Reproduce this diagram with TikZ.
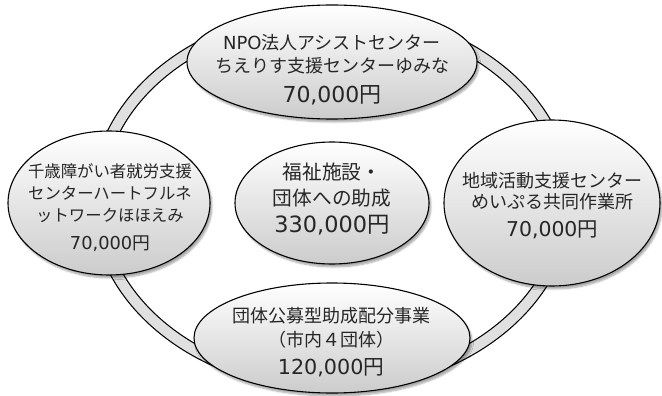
\documentclass[tikz,border=0pt]{standalone}
\usepackage{fontspec}
\newfontfamily\jp{Noto Sans CJK JP}
\newfontfamily\lat{DejaVu Sans}
\usetikzlibrary{shapes.geometric,shadows.blur}
\newcommand{\num}[2]{{\lat\fontsize{#1}{#1}\selectfont #2}}
\tikzset{
  bubble/.style={ellipse, draw=black, line width=1.1pt, inner sep=0pt,
    top color=white, bottom color=black!20,
    blur shadow={shadow xshift=2pt, shadow yshift=-3pt, shadow blur steps=6, shadow opacity=35}},
  txt/.style={align=center, inner sep=0pt, text=black!85},
}
\begin{document}
\begin{tikzpicture}[x=1pt,y=-1pt]
\useasboundingbox (0,0) rectangle (662,396);
% ring
\coordinate (ringc) at (332,200);
\draw[line width=12.6pt, black] (ringc) ellipse [x radius=235, y radius=185];
\draw[line width=10.2pt, black!12] (ringc) ellipse [x radius=235, y radius=185];
% bubbles
\node[bubble, minimum width=290pt, minimum height=114pt] (top) at (332,62) {};
\node[bubble, minimum width=202pt, minimum height=144pt] (left) at (109,203) {};
\node[bubble, minimum width=216pt, minimum height=166pt] (right) at (552,203) {};
\node[bubble, minimum width=276pt, minimum height=110pt] (bottom) at (332,338) {};
\node[bubble, minimum width=194pt, minimum height=122pt] (center) at (332,203) {};
% texts
\node[txt, font=\jp\fontsize{18}{23}\selectfont] (toptext) at (332,70)
  {{\lat NPO}法人アシストセンター\\ちえりす支援センターゆみな\\[7pt]\num{22}{70,000}{\fontsize{22}{22}\selectfont 円}};
\node[txt, font=\jp\fontsize{16.4}{22}\selectfont] (lefttext) at (110,208)
  {千歳障がい者就労支援\\センターハートフルネ\\ットワークほほえみ\\[6pt]\num{17.8}{70,000}{\fontsize{17.8}{17.8}\selectfont 円}};
\node[txt, font=\jp\fontsize{18}{21}\selectfont] (righttext) at (552,206)
  {地域活動支援センター\\めいぷる共同作業所\\[7pt]\num{20.4}{70,000}{\fontsize{20.4}{20.4}\selectfont 円}};
\node[txt, font=\jp\fontsize{18}{24}\selectfont] (bottomtext) at (331,342)
  {団体公募型助成配分事業\\（市内４団体）\\[4pt]\num{20.7}{120,000}{\fontsize{20.7}{20.7}\selectfont 円}};
\node[txt, font=\jp\fontsize{19.7}{26.5}\selectfont] (centertext) at (332,199)
  {福祉施設・\\団体への助成\\\num{22.4}{330,000}{\fontsize{22.4}{22.4}\selectfont 円}};
\end{tikzpicture}
\end{document}
